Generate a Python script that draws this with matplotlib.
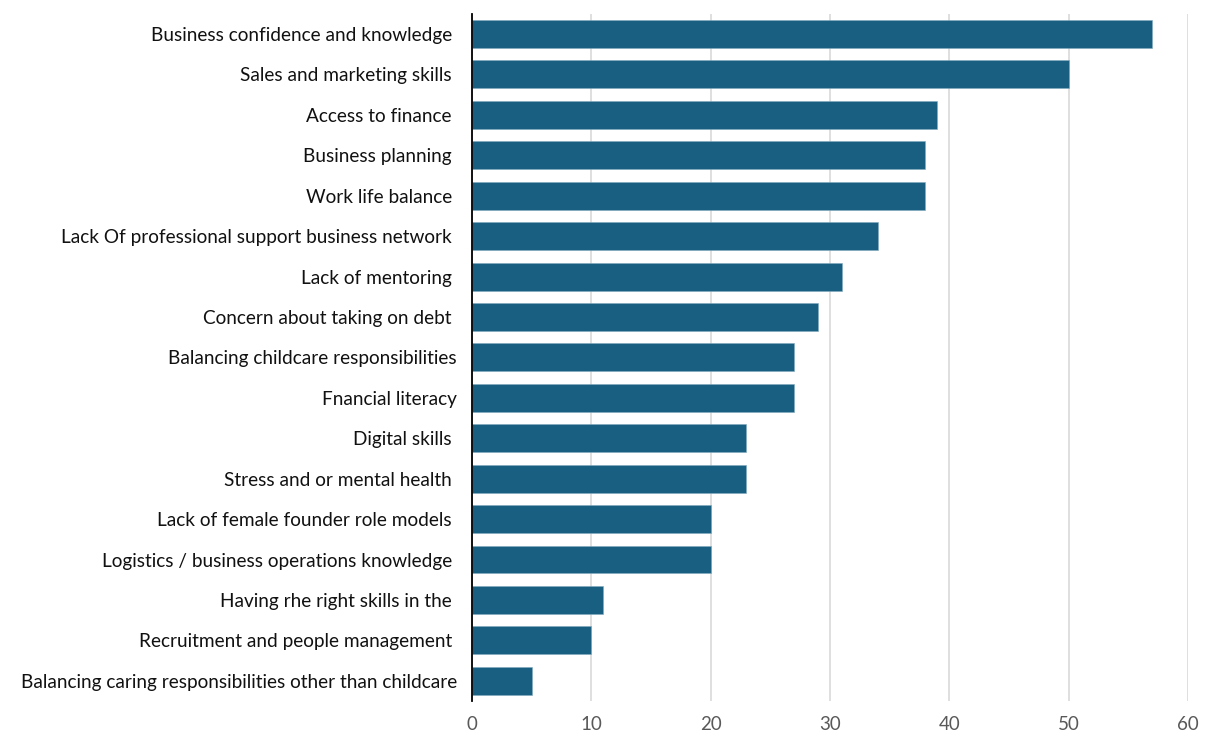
import matplotlib
matplotlib.use("Agg")
import matplotlib.pyplot as plt

categories = [
    "Business confidence and knowledge ",
    "Sales and marketing skills ",
    "Access to finance ",
    "Business planning ",
    "Work life balance ",
    "Lack Of professional support business network ",
    "Lack of mentoring ",
    "Concern about taking on debt ",
    "Balancing childcare responsibilities",
    "Fnancial literacy",
    "Digital skills ",
    "Stress and or mental health ",
    "Lack of female founder role models ",
    "Logistics / business operations knowledge ",
    "Having rhe right skills in the ",
    "Recruitment and people management ",
    "Balancing caring responsibilities other than childcare",
]
values = [57, 50, 39, 38, 38, 34, 31, 29, 27, 27, 23, 23, 20, 20, 11, 10, 5]
x_ticks = [0, 10, 20, 30, 40, 50, 60]

plt.rcParams["font.family"] = ["Lato", "DejaVu Sans"]

fig = plt.figure(figsize=(12.06, 7.37), dpi=100)
ax = fig.add_axes([0.3914, 0.0488, 0.9851 - 0.3914, 0.9813 - 0.0488])

pos = list(range(len(categories)))
ax.barh(pos, values, height=0.69, color="#185F81", edgecolor="#7FA9BE",
        linewidth=0.4, zorder=3)

ax.set_ylim(len(categories) - 0.5, -0.5)
ax.set_xlim(0, 60)
ax.set_xticks(x_ticks)
ax.set_yticks(pos)
ax.set_yticklabels(categories, fontsize=13.7, color="#111111")
ax.tick_params(axis="y", length=0, pad=11)
ax.tick_params(axis="x", length=0, labelsize=13.5, labelcolor="#595959", pad=11)

ax.grid(axis="x", color="#d9d9d9", linewidth=1.2, zorder=0)
for side in ["top", "right", "bottom"]:
    ax.spines[side].set_visible(False)
ax.spines["left"].set_color("#000000")
ax.spines["left"].set_linewidth(1.3)
ax.spines["left"].set_zorder(4)

fig.savefig("out.png", dpi=100)
